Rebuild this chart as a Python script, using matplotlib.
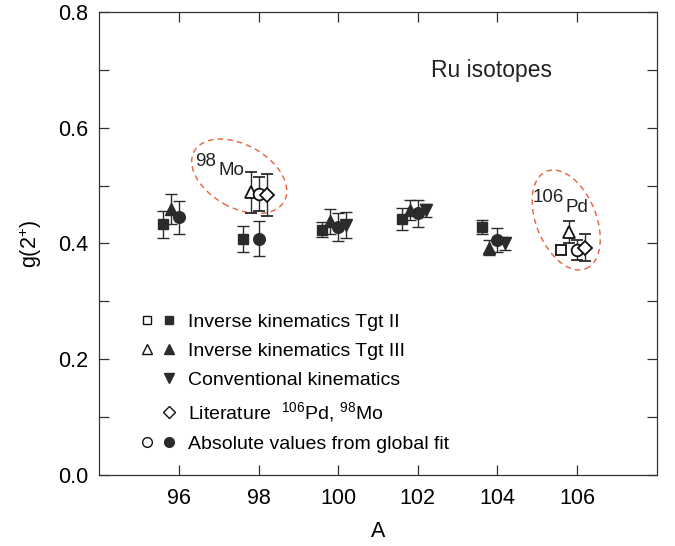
import numpy as np
import matplotlib
matplotlib.use("Agg")
import matplotlib.pyplot as plt
from matplotlib.patches import Ellipse
from matplotlib.lines import Line2D
from matplotlib.legend_handler import HandlerTuple
from matplotlib.transforms import ScaledTranslation

plt.rcParams["font.family"] = ["Liberation Sans", "DejaVu Sans"]
plt.rcParams["mathtext.fontset"] = "custom"
plt.rcParams["mathtext.rm"] = "Liberation Sans"
plt.rcParams["mathtext.default"] = "regular"

# inverse kinematics, target II (filled = Ru, open = 106Pd)
tgt2_A = [95.6, 97.6, 99.6, 101.6, 103.6]
tgt2_g = [0.433, 0.408, 0.424, 0.442, 0.429]
tgt2_err = [0.023, 0.022, 0.013, 0.019, 0.012]
tgt2_ref_A = [105.6]
tgt2_ref_g = [0.388]
tgt2_ref_err = [0.007]

# inverse kinematics, target III
tgt3_A = [95.8, 99.8, 101.8, 103.8]
tgt3_g = [0.459, 0.438, 0.458, 0.393]
tgt3_err = [0.026, 0.021, 0.017, 0.013]
tgt3_ref_A = [97.8, 105.8]
tgt3_ref_g = [0.488, 0.419]
tgt3_ref_err = [0.035, 0.019]

# conventional kinematics
conv_A = [100.2, 102.2, 104.2]
conv_g = [0.432, 0.457, 0.400]
conv_err = [0.023, 0.012, 0.011]

# literature values for 98Mo, 106Pd
lit_A = [98.2, 106.2]
lit_g = [0.484, 0.393]
lit_err = [0.036, 0.024]

# absolute values from global fit
fit_A = [96.0, 98.0, 100.0, 102.0, 104.0]
fit_g = [0.445, 0.408, 0.429, 0.452, 0.406]
fit_err = [0.028, 0.030, 0.024, 0.023, 0.020]
fit_ref_A = [98.0, 106.0]
fit_ref_g = [0.485, 0.389]
fit_ref_err = [0.029, 0.017]

x_ticks = [96, 98, 100, 102, 104, 106]
y_ticks = [0.0, 0.2, 0.4, 0.6, 0.8]

dark = "#2b2b2b"
ell_col = "#e8603c"

fig = plt.figure(figsize=(6.75, 5.46), dpi=100)
ax = fig.add_axes([0.1471, 0.1295, 0.8258, 0.8491])

common = dict(ecolor=dark, elinewidth=1.0, capsize=4.5, capthick=1.0, linestyle="none")
filled = dict(mfc=dark, mec=dark, mew=1.0)
opened = dict(mfc="white", mec="#111111", mew=1.3)

ax.errorbar(tgt2_A, tgt2_g, yerr=tgt2_err, marker="s", ms=7.2, **filled, **common)
ax.errorbar(tgt2_ref_A, tgt2_ref_g, yerr=tgt2_ref_err, marker="s", ms=7.2, **opened, **common)
ax.errorbar(tgt3_A, tgt3_g, yerr=tgt3_err, marker="^", ms=8.0, **filled, **common)
ax.errorbar(tgt3_ref_A, tgt3_ref_g, yerr=tgt3_ref_err, marker="^", ms=8.0, **opened, **common)
ax.errorbar(conv_A, conv_g, yerr=conv_err, marker="v", ms=8.0, **filled, **common)
ax.errorbar(fit_A, fit_g, yerr=fit_err, marker="o", ms=8.4, **filled, **common)
ax.errorbar(fit_ref_A, fit_ref_g, yerr=fit_ref_err, marker="o", ms=8.4, **opened, **common)
ax.errorbar(lit_A, lit_g, yerr=lit_err, marker="D", ms=7.0, **opened, **common)


def ring(cx, cy, w_px, h_px, ang):
    # dashed ellipse, size given in pixels, centred at a data point
    tr = fig.dpi_scale_trans + ScaledTranslation(cx, cy, ax.transData)
    e = Ellipse((0, 0), w_px / fig.dpi, h_px / fig.dpi, angle=ang, transform=tr,
                fill=False, ec=ell_col, lw=1.0, ls=(0, (4, 3)))
    ax.add_patch(e)


ring(97.515, 0.516, 103, 63, -29)
ring(105.726, 0.4405, 60, 105, 22)

ax.text(96.40, 0.5337, "98", fontsize=13.5, color="#222222")
ax.text(96.99, 0.5182, "Mo", fontsize=13.5, color="#222222")
ax.text(104.89, 0.4721, "106", fontsize=13.5, color="#222222")
ax.text(105.70, 0.4549, "Pd", fontsize=13.5, color="#222222")
ax.text(102.33, 0.6878, "Ru isotopes", fontsize=16.5, color="#222222")

ax.set_xlim(94, 108)
ax.set_ylim(0, 0.8)
ax.set_xticks(x_ticks)
ax.set_yticks(y_ticks)
ax.set_yticklabels([f"{v:.1f}" for v in y_ticks])
ax.set_yticks(np.arange(0.1, 0.8, 0.2), minor=True)
ax.tick_params(which="both", direction="in", top=True, right=True, length=7,
               width=0.9, color="#333333", labelsize=15.5)
ax.tick_params(axis="x", pad=9)
ax.tick_params(axis="y", pad=8)
for s in ax.spines.values():
    s.set_linewidth(0.9)
    s.set_color("#333333")

ax.set_xlabel("A", fontsize=15.5, labelpad=9)
ax.set_ylabel("g(2$^{+}$)", fontsize=15.5, labelpad=10)

# legend
sm = 6.0
blank = Line2D([], [], ls="none")
h1 = (Line2D([], [], marker="s", ls="none", ms=sm, mfc="white", mec="#111111", mew=1.0),
      Line2D([], [], marker="s", ls="none", ms=sm, mfc=dark, mec=dark))
h2 = (Line2D([], [], marker="^", ls="none", ms=sm + 1, mfc="white", mec="#111111", mew=1.0),
      Line2D([], [], marker="^", ls="none", ms=sm + 1, mfc=dark, mec=dark))
h3 = (blank, Line2D([], [], marker="v", ls="none", ms=sm + 1.5, mfc=dark, mec=dark))
h4 = (blank, Line2D([], [], marker="D", ls="none", ms=sm, mfc="white", mec="#111111", mew=1.0))
h5 = (Line2D([], [], marker="o", ls="none", ms=sm + 1, mfc="white", mec="#111111", mew=1.0),
      Line2D([], [], marker="o", ls="none", ms=sm + 1, mfc=dark, mec=dark))
labels = ["Inverse kinematics Tgt II",
          "Inverse kinematics Tgt III",
          "Conventional kinematics",
          "Literature  $^{106}$Pd, $^{98}$Mo",
          "Absolute values from global fit"]
ax.legend([h1, h2, h3, h4, h5], labels,
          handler_map={tuple: HandlerTuple(ndivide=None, pad=0.4)},
          loc="upper left", bbox_to_anchor=(0.072, 0.349), frameon=False,
          fontsize=14, handlelength=1.9, handletextpad=0.6,
          labelspacing=0.58, borderpad=0, borderaxespad=0)

fig.savefig("out.png", dpi=100)
